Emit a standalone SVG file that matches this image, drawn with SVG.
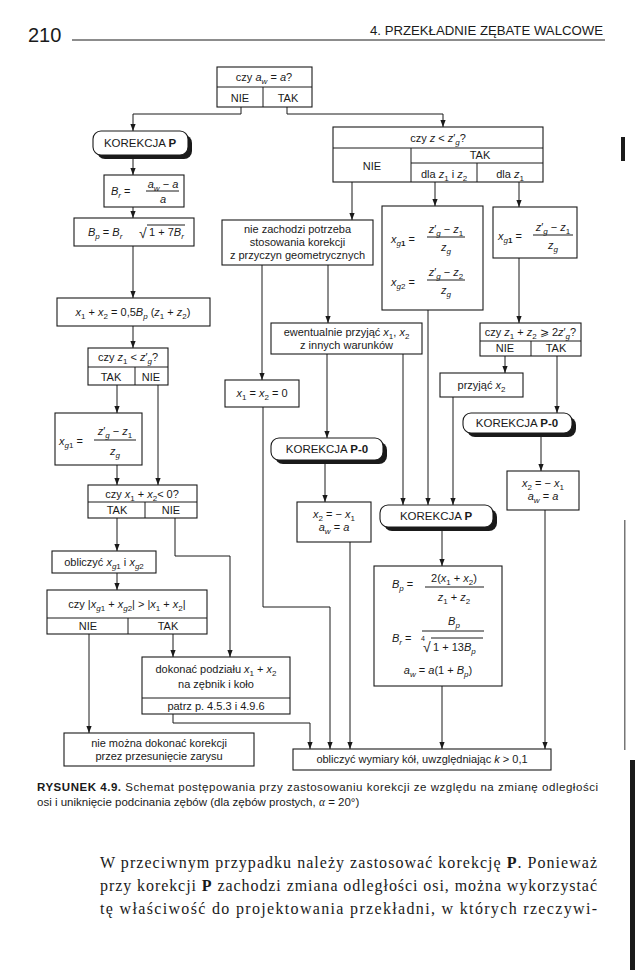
<svg xmlns="http://www.w3.org/2000/svg" width="635" height="970" viewBox="0 0 635 970">
<style>
.t{font-family:"Liberation Sans",Arial,sans-serif;font-size:11px;fill:#1a1a1a}
.c{text-anchor:middle}
.i{font-style:italic}
.s{font-size:8px}
.b{font-weight:bold}
.bx{fill:#fff;stroke:#1a1a1a;stroke-width:1.1}
.sh{fill:#1a1a1a}
.ln{fill:none;stroke:#1a1a1a;stroke-width:1}
.cn path{fill:none;stroke:#1a1a1a;stroke-width:1;marker-end:url(#ah)}
.cap{font-family:"Liberation Sans",Arial,sans-serif;font-size:11.5px;fill:#1a1a1a}
.body{font-family:"Liberation Serif","Times New Roman",serif;font-size:16px;fill:#1a1a1a}
</style>
<defs>
<marker id="ah" viewBox="0 0 8 8" refX="8" refY="4" markerWidth="7" markerHeight="7" markerUnits="userSpaceOnUse" orient="auto"><path d="M0,1 L8,4 L0,7 z" fill="#1a1a1a"/></marker>
</defs>
<rect width="635" height="970" fill="#fff"/>

<!-- header -->
<text class="t" x="28" y="42" style="font-size:20px">210</text>
<line class="ln" x1="72" y1="40" x2="605" y2="40" stroke-width="0.8"/>
<text class="t" x="603" y="35" text-anchor="end" style="font-size:13.2px">4. PRZEKŁADNIE ZĘBATE WALCOWE</text>

<!-- scan marks at the page edge -->
<g id="scan-marks" fill="#1a1a1a">
<rect x="621" y="137" width="4" height="24"/>
<rect x="624" y="520" width="1.5" height="230" opacity="0.6"/>
<rect x="630" y="760" width="5" height="210"/>
</g>

<!-- connectors -->
<g id="connectors" class="cn">
<path d="M241,107 V114 H133 V131"/>
<path d="M287,107 V114 H443 V127"/>
<path d="M133,159 V175"/>
<path d="M133,207 V218"/>
<path d="M133,246 V298"/>
<path d="M133,326 V348"/>
<path d="M117,385 V413"/>
<path d="M158,385 V485"/>
<path d="M117,465 V485"/>
<path d="M117,518 V551"/>
<path d="M175,518 V556 H230 V657"/>
<path d="M117,573 V590"/>
<path d="M89,634 V733"/>
<path d="M173,634 V657"/>
<path d="M173,714 V723 H310 V749"/>
<path d="M352,182 V220"/>
<path d="M435,182 V206"/>
<path d="M519,182 V207"/>
<path d="M262,265 V380"/>
<path d="M328,265 V323"/>
<path d="M327,354 V438"/>
<path d="M403,354 V505"/>
<path d="M428,310 V505"/>
<path d="M519,258 V323"/>
<path d="M505,356 V373"/>
<path d="M557,356 V413"/>
<path d="M453,397 V505"/>
<path d="M541,437 V471"/>
<path d="M325,464 V502"/>
<path d="M263,407 V607 H330 V749"/>
<path d="M350,542 V749"/>
<path d="M442,531 V566"/>
<path d="M442,686 V749"/>
<path d="M545,510 V749"/>
</g>

<!-- top decision -->
<g id="n_aw">
<rect class="bx" x="217" y="67" width="95" height="40"/>
<line class="ln" x1="217" y1="87" x2="312" y2="87"/>
<line class="ln" x1="263" y1="87" x2="263" y2="107"/>
<text class="t c" x="264" y="81">czy <tspan class="i">a</tspan><tspan class="i s" dy="2.5">w</tspan><tspan dy="-2.5"> = </tspan><tspan class="i">a</tspan>?</text>
<text class="t c" x="240" y="102">NIE</text>
<text class="t c" x="288" y="102">TAK</text>
</g>

<!-- left column -->
<g id="n_korP1">
<rect class="sh" x="97" y="135" width="95" height="24" rx="8"/>
<rect class="bx" x="93" y="131" width="95" height="24" rx="8"/>
<text class="t c" x="140" y="147" style="font-size:11.5px">KOREKCJA <tspan class="b">P</tspan></text>
</g>
<g id="n_Br">
<rect class="bx" x="104" y="175" width="80" height="32"/>
<text class="t" x="111" y="195"><tspan class="i">B</tspan><tspan class="i s" dy="2.5">r</tspan><tspan dy="-2.5"> =</tspan></text>
<text class="t c" x="163" y="188"><tspan class="i">a</tspan><tspan class="i s" dy="2.5">w</tspan><tspan dy="-2.5"> − </tspan><tspan class="i">a</tspan></text>
<line class="ln" x1="146" y1="191" x2="179" y2="191"/>
<text class="t c i" x="163" y="203">a</text>
</g>
<g id="n_Bp">
<rect class="bx" x="74" y="218" width="120" height="28"/>
<text class="t" x="88" y="236"><tspan class="i">B</tspan><tspan class="i s" dy="2.5">p</tspan><tspan dy="-2.5"> = </tspan><tspan class="i">B</tspan><tspan class="i s" dy="2.5">r</tspan></text>
<text class="t" x="139" y="238" style="font-size:14px">√</text>
<line class="ln" x1="147" y1="225" x2="185" y2="225"/>
<text class="t" x="149" y="236">1 + 7<tspan class="i">B</tspan><tspan class="i s" dy="2.5">r</tspan></text>
</g>
<g id="n_sumx">
<rect class="bx" x="57" y="298" width="153" height="28"/>
<text class="t c" x="133" y="316"><tspan class="i">x</tspan><tspan class="s" dy="2.5">1</tspan><tspan dy="-2.5"> + </tspan><tspan class="i">x</tspan><tspan class="s" dy="2.5">2</tspan><tspan dy="-2.5"> = 0,5</tspan><tspan class="i">B</tspan><tspan class="i s" dy="2.5">p</tspan><tspan dy="-2.5"> (</tspan><tspan class="i">z</tspan><tspan class="s" dy="2.5">1</tspan><tspan dy="-2.5"> + </tspan><tspan class="i">z</tspan><tspan class="s" dy="2.5">2</tspan><tspan dy="-2.5">)</tspan></text>
</g>
<g id="n_z1">
<rect class="bx" x="88" y="348" width="80" height="37"/>
<line class="ln" x1="88" y1="367" x2="168" y2="367"/>
<line class="ln" x1="135" y1="367" x2="135" y2="385"/>
<text class="t c" x="128" y="361">czy <tspan class="i">z</tspan><tspan class="s" dy="2.5">1</tspan><tspan dy="-2.5"> &lt; </tspan><tspan class="i">z</tspan>′<tspan class="i s" dy="2.5">g</tspan><tspan dy="-2.5">?</tspan></text>
<text class="t c" x="111" y="381">TAK</text>
<text class="t c" x="151" y="381">NIE</text>
</g>
<g id="n_xg1L">
<rect class="bx" x="55" y="413" width="87" height="52"/>
<text class="t" x="59" y="445"><tspan class="i">x</tspan><tspan class="i s" dy="2.5">g</tspan><tspan class="s">1</tspan><tspan dy="-2.5"> =</tspan></text>
<text class="t c" x="115" y="435"><tspan class="i">z</tspan>′<tspan class="i s" dy="2.5">g</tspan><tspan dy="-2.5"> − </tspan><tspan class="i">z</tspan><tspan class="s" dy="2.5">1</tspan></text>
<line class="ln" x1="94" y1="440" x2="136" y2="440"/>
<text class="t c" x="115" y="455"><tspan class="i">z</tspan><tspan class="i s" dy="2.5">g</tspan></text>
</g>
<g id="n_neg">
<rect class="bx" x="88" y="485" width="109" height="33"/>
<line class="ln" x1="88" y1="502" x2="197" y2="502"/>
<line class="ln" x1="145" y1="502" x2="145" y2="518"/>
<text class="t c" x="142" y="498">czy <tspan class="i">x</tspan><tspan class="s" dy="2.5">1</tspan><tspan dy="-2.5"> + </tspan><tspan class="i">x</tspan><tspan class="s" dy="2.5">2</tspan><tspan dy="-2.5">&lt; 0?</tspan></text>
<text class="t c" x="117" y="514">TAK</text>
<text class="t c" x="171" y="514">NIE</text>
</g>
<g id="n_calc">
<rect class="bx" x="52" y="551" width="104" height="22"/>
<text class="t c" x="104" y="566">obliczyć <tspan class="i">x</tspan><tspan class="i s" dy="2.5">g</tspan><tspan class="s">1</tspan><tspan dy="-2.5"> i </tspan><tspan class="i">x</tspan><tspan class="i s" dy="2.5">g</tspan><tspan class="s">2</tspan></text>
</g>
<g id="n_abs">
<rect class="bx" x="47" y="590" width="160" height="44"/>
<line class="ln" x1="47" y1="618" x2="207" y2="618"/>
<line class="ln" x1="128" y1="618" x2="128" y2="634"/>
<text class="t c" x="127" y="608">czy |<tspan class="i">x</tspan><tspan class="i s" dy="2.5">g</tspan><tspan class="s">1</tspan><tspan dy="-2.5"> + </tspan><tspan class="i">x</tspan><tspan class="i s" dy="2.5">g</tspan><tspan class="s">2</tspan><tspan dy="-2.5">| &gt; |</tspan><tspan class="i">x</tspan><tspan class="s" dy="2.5">1</tspan><tspan dy="-2.5"> + </tspan><tspan class="i">x</tspan><tspan class="s" dy="2.5">2</tspan><tspan dy="-2.5">|</tspan></text>
<text class="t c" x="88" y="630">NIE</text>
<text class="t c" x="168" y="630">TAK</text>
</g>
<g id="n_split">
<rect class="bx" x="142" y="657" width="148" height="57"/>
<line class="ln" x1="142" y1="698" x2="290" y2="698"/>
<text class="t c" x="216" y="673">dokonać podziału <tspan class="i">x</tspan><tspan class="s" dy="2.5">1</tspan><tspan dy="-2.5"> + </tspan><tspan class="i">x</tspan><tspan class="s" dy="2.5">2</tspan></text>
<text class="t c" x="216" y="688">na zębnik i koło</text>
<text class="t c" x="216" y="710">patrz p. 4.5.3 i 4.9.6</text>
</g>
<g id="n_nomoz">
<rect class="bx" x="64" y="733" width="190" height="33"/>
<text class="t c" x="159" y="747">nie można dokonać korekcji</text>
<text class="t c" x="159" y="760">przez przesunięcie zarysu</text>
</g>

<!-- right part -->
<g id="n_zg">
<rect class="bx" x="333" y="127" width="210" height="55"/>
<line class="ln" x1="333" y1="148" x2="543" y2="148"/>
<line class="ln" x1="411" y1="148" x2="411" y2="182"/>
<line class="ln" x1="411" y1="163" x2="543" y2="163"/>
<line class="ln" x1="477" y1="163" x2="477" y2="182"/>
<text class="t c" x="438" y="142">czy <tspan class="i">z</tspan> &lt; <tspan class="i">z</tspan>′<tspan class="i s" dy="2.5">g</tspan><tspan dy="-2.5">?</tspan></text>
<text class="t c" x="372" y="170">NIE</text>
<text class="t c" x="480" y="159">TAK</text>
<text class="t c" x="444" y="178">dla <tspan class="i">z</tspan><tspan class="s" dy="2.5">1</tspan><tspan dy="-2.5"> i </tspan><tspan class="i">z</tspan><tspan class="s" dy="2.5">2</tspan></text>
<text class="t c" x="510" y="178">dla <tspan class="i">z</tspan><tspan class="s" dy="2.5">1</tspan></text>
</g>
<g id="n_nopot">
<rect class="bx" x="222" y="220" width="151" height="45"/>
<text class="t c" x="297.5" y="233">nie zachodzi potrzeba</text>
<text class="t c" x="297.5" y="246">stosowania korekcji</text>
<text class="t c" x="297.5" y="259">z przyczyn geometrycznych</text>
</g>
<g id="n_xg12">
<rect class="bx" x="382" y="206" width="101" height="104"/>
<text class="t" x="391" y="243"><tspan class="i">x</tspan><tspan class="i s" dy="2.5">g</tspan><tspan class="s b">1</tspan><tspan dy="-2.5"> =</tspan></text>
<text class="t c" x="446" y="233"><tspan class="i">z</tspan>′<tspan class="i s" dy="2.5">g</tspan><tspan dy="-2.5"> − </tspan><tspan class="i">z</tspan><tspan class="s" dy="2.5">1</tspan></text>
<line class="ln" x1="427" y1="237" x2="465" y2="237"/>
<text class="t c" x="446" y="251"><tspan class="i">z</tspan><tspan class="i s" dy="2.5">g</tspan></text>
<text class="t" x="391" y="286"><tspan class="i">x</tspan><tspan class="i s" dy="2.5">g</tspan><tspan class="s">2</tspan><tspan dy="-2.5"> =</tspan></text>
<text class="t c" x="446" y="276"><tspan class="i">z</tspan>′<tspan class="i s" dy="2.5">g</tspan><tspan dy="-2.5"> − </tspan><tspan class="i">z</tspan><tspan class="s" dy="2.5">2</tspan></text>
<line class="ln" x1="427" y1="280" x2="465" y2="280"/>
<text class="t c" x="446" y="294"><tspan class="i">z</tspan><tspan class="i s" dy="2.5">g</tspan></text>
</g>
<g id="n_xg1R">
<rect class="bx" x="493" y="207" width="84" height="51"/>
<text class="t" x="498" y="240"><tspan class="i">x</tspan><tspan class="i s" dy="2.5">g</tspan><tspan class="s b">1</tspan><tspan dy="-2.5"> =</tspan></text>
<text class="t c" x="553" y="231"><tspan class="i">z</tspan>′<tspan class="i s" dy="2.5">g</tspan><tspan dy="-2.5"> − </tspan><tspan class="i">z</tspan><tspan class="s" dy="2.5">1</tspan></text>
<line class="ln" x1="533" y1="235" x2="573" y2="235"/>
<text class="t c" x="553" y="249"><tspan class="i">z</tspan><tspan class="i s" dy="2.5">g</tspan></text>
</g>
<g id="n_x0">
<rect class="bx" x="225" y="380" width="74" height="27"/>
<text class="t c" x="262" y="397"><tspan class="i">x</tspan><tspan class="s" dy="2.5">1</tspan><tspan dy="-2.5"> = </tspan><tspan class="i">x</tspan><tspan class="s" dy="2.5">2</tspan><tspan dy="-2.5"> = 0</tspan></text>
</g>
<g id="n_ewent">
<rect class="bx" x="271" y="323" width="151" height="31"/>
<text class="t c" x="346.5" y="336">ewentualnie przyjąć <tspan class="i">x</tspan><tspan class="s" dy="2.5">1</tspan><tspan dy="-2.5">, </tspan><tspan class="i">x</tspan><tspan class="s" dy="2.5">2</tspan></text>
<text class="t c" x="346.5" y="349">z innych warunków</text>
</g>
<g id="n_korP0L">
<rect class="sh" x="275" y="442" width="112" height="22" rx="8"/>
<rect class="bx" x="271" y="438" width="112" height="22" rx="8"/>
<text class="t c" x="327" y="453" style="font-size:11.5px">KOREKCJA <tspan class="b">P-0</tspan></text>
</g>
<g id="n_x2L">
<rect class="bx" x="297" y="502" width="74" height="40"/>
<text class="t c" x="334" y="518"><tspan class="i">x</tspan><tspan class="s" dy="2.5">2</tspan><tspan dy="-2.5"> = − </tspan><tspan class="i">x</tspan><tspan class="s" dy="2.5">1</tspan></text>
<text class="t c" x="334" y="531"><tspan class="i">a</tspan><tspan class="i s" dy="2.5">w</tspan><tspan dy="-2.5"> = </tspan><tspan class="i">a</tspan></text>
</g>
<g id="n_z12">
<rect class="bx" x="480" y="323" width="101" height="33"/>
<line class="ln" x1="480" y1="341" x2="581" y2="341"/>
<line class="ln" x1="531" y1="341" x2="531" y2="356"/>
<text class="t c" x="530.5" y="336">czy <tspan class="i">z</tspan><tspan class="s" dy="2.5">1</tspan><tspan dy="-2.5"> + </tspan><tspan class="i">z</tspan><tspan class="s" dy="2.5">2</tspan><tspan dy="-2.5"> ⩾ 2</tspan><tspan class="i">z</tspan>′<tspan class="i s" dy="2.5">g</tspan><tspan dy="-2.5">?</tspan></text>
<text class="t c" x="505" y="352">NIE</text>
<text class="t c" x="556" y="352">TAK</text>
</g>
<g id="n_przyj">
<rect class="bx" x="440" y="373" width="83" height="24"/>
<text class="t c" x="481.5" y="389">przyjąć <tspan class="i">x</tspan><tspan class="s" dy="2.5">2</tspan></text>
</g>
<g id="n_korP0R">
<rect class="sh" x="467" y="417" width="109" height="20" rx="8"/>
<rect class="bx" x="463" y="413" width="109" height="20" rx="8"/>
<text class="t c" x="517" y="427" style="font-size:11.5px">KOREKCJA <tspan class="b">P-0</tspan></text>
</g>
<g id="n_x2R">
<rect class="bx" x="507" y="471" width="72" height="39"/>
<text class="t c" x="543" y="487"><tspan class="i">x</tspan><tspan class="s" dy="2.5">2</tspan><tspan dy="-2.5"> = − </tspan><tspan class="i">x</tspan><tspan class="s" dy="2.5">1</tspan></text>
<text class="t c" x="543" y="500"><tspan class="i">a</tspan><tspan class="i s" dy="2.5">w</tspan><tspan dy="-2.5"> = </tspan><tspan class="i">a</tspan></text>
</g>
<g id="n_korPM">
<rect class="sh" x="384" y="509" width="113" height="22" rx="8"/>
<rect class="bx" x="380" y="505" width="113" height="22" rx="8"/>
<text class="t c" x="436" y="520" style="font-size:11.5px">KOREKCJA <tspan class="b">P</tspan></text>
</g>
<g id="n_BpM">
<rect class="bx" x="374" y="566" width="128" height="120"/>
<text class="t" x="392" y="588"><tspan class="i">B</tspan><tspan class="i s" dy="2.5">p</tspan><tspan dy="-2.5"> =</tspan></text>
<text class="t c" x="454" y="582">2(<tspan class="i">x</tspan><tspan class="s" dy="2.5">1</tspan><tspan dy="-2.5"> + </tspan><tspan class="i">x</tspan><tspan class="s" dy="2.5">2</tspan><tspan dy="-2.5">)</tspan></text>
<line class="ln" x1="425" y1="587" x2="484" y2="587"/>
<text class="t c" x="454" y="601"><tspan class="i">z</tspan><tspan class="s" dy="2.5">1</tspan><tspan dy="-2.5"> + </tspan><tspan class="i">z</tspan><tspan class="s" dy="2.5">2</tspan></text>
<text class="t" x="392" y="642"><tspan class="i">B</tspan><tspan class="i s" dy="2.5">r</tspan><tspan dy="-2.5"> =</tspan></text>
<text class="t c" x="454" y="625"><tspan class="i">B</tspan><tspan class="i s" dy="2.5">p</tspan></text>
<line class="ln" x1="422" y1="631" x2="484" y2="631"/>
<text class="t" x="421" y="641" style="font-size:7px">4</text>
<text class="t" x="423" y="652" style="font-size:14px">√</text>
<line class="ln" x1="431" y1="638" x2="483" y2="638"/>
<text class="t" x="433" y="651">1 + 13<tspan class="i">B</tspan><tspan class="i s" dy="2.5">p</tspan></text>
<text class="t c" x="438" y="674"><tspan class="i">a</tspan><tspan class="i s" dy="2.5">w</tspan><tspan dy="-2.5"> = </tspan><tspan class="i">a</tspan>(1 + <tspan class="i">B</tspan><tspan class="i s" dy="2.5">p</tspan><tspan dy="-2.5">)</tspan></text>
</g>
<g id="n_final">
<rect class="bx" x="293" y="749" width="258" height="21"/>
<text class="t c" x="422" y="763">obliczyć wymiary kół, uwzględniając <tspan class="i">k</tspan> &gt; 0,1</text>
</g>

<!-- caption -->
<text class="cap" x="37" y="791" textLength="561" lengthAdjust="spacing"><tspan class="b">RYSUNEK 4.9.</tspan> Schemat postępowania przy zastosowaniu korekcji ze względu na zmianę odległości</text>
<text class="cap" x="37" y="806">osi i uniknięcie podcinania zębów (dla zębów prostych, <tspan font-family="Liberation Serif" font-style="italic">α</tspan> = 20°)</text>

<!-- body text -->
<text class="body" x="100" y="868" textLength="497" lengthAdjust="spacing">W przeciwnym przypadku należy zastosować korekcję <tspan font-weight="bold">P</tspan>. Ponieważ</text>
<text class="body" x="100" y="891" textLength="497" lengthAdjust="spacing">przy korekcji <tspan font-weight="bold">P</tspan> zachodzi zmiana odległości osi, można wykorzystać</text>
<text class="body" x="100" y="914" textLength="497" lengthAdjust="spacing">tę właściwość do projektowania przekładni, w których rzeczywi-</text>
</svg>
